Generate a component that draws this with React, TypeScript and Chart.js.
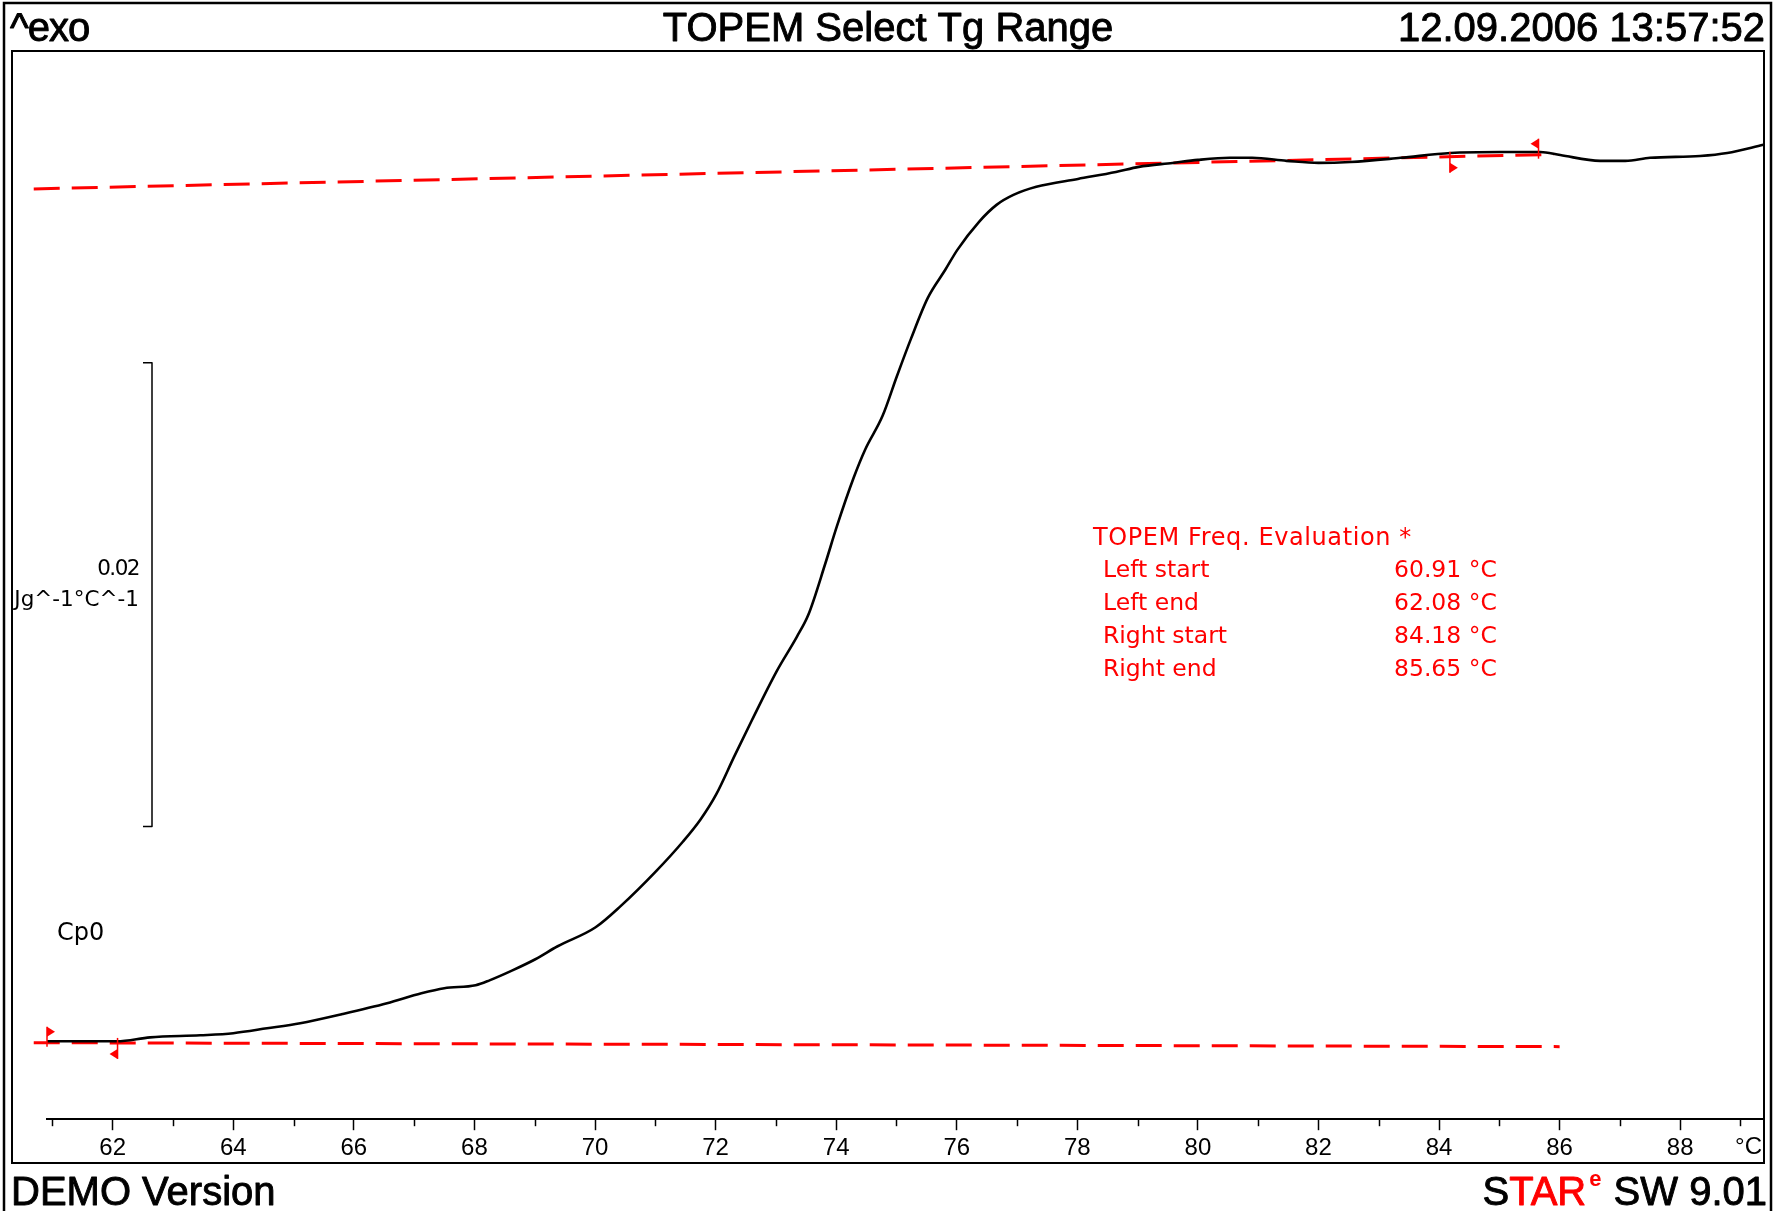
import { useEffect, useRef } from 'react';
import { Chart, registerables } from 'chart.js';

Chart.register(...registerables);

// ---- Data (temperature in °C, Cp in J g^-1 °C^-1) ----
const temperatures = [
  60.91, 61.5, 62.07, 62.62, 63.45, 64.0, 64.56, 65.11, 65.8, 66.55, 67.12, 67.5, 68.02, 68.25,
  68.63, 69.01, 69.38, 70.01, 70.42, 71.01, 71.46, 71.75, 72.01, 72.31, 72.6, 73.01, 73.35, 73.54,
  73.82, 74.01, 74.29, 74.48, 74.77, 75.01, 75.24, 75.52, 75.81, 76.01, 76.37, 76.66, 76.94, 77.32,
  78.01, 78.64, 79.02, 79.58, 80.0, 80.53, 80.9, 81.47, 82.0, 82.53, 83.36, 84.19, 85.02, 85.68,
  86.01, 86.67, 87.09, 87.5, 88.33, 88.78, 89.38,
];
const cpValues = [
  1.60336, 1.60336, 1.60336, 1.60353, 1.60362, 1.60371, 1.60392, 1.60414, 1.60453, 1.605, 1.60543,
  1.60565, 1.60578, 1.60599, 1.60642, 1.6069, 1.60746, 1.60828, 1.60918, 1.61069, 1.61198, 1.61293,
  1.61401, 1.61565, 1.6172, 1.61931, 1.62082, 1.62177, 1.62397, 1.62556, 1.62767, 1.62888, 1.63034,
  1.63207, 1.63366, 1.63543, 1.63664, 1.6375, 1.63871, 1.63944, 1.63987, 1.64022, 1.64056, 1.64086,
  1.64108, 1.64125, 1.64138, 1.64147, 1.64147, 1.64134, 1.64125, 1.64129, 1.64147, 1.64168,
  1.64172, 1.64172, 1.64159, 1.64134, 1.64134, 1.64147, 1.64155, 1.64168, 1.64203,
];
const topBaselineT = [60.69, 85.9];
const topBaselineCp = [1.64013, 1.64162];
const bottomBaselineT = [60.69, 86.0];
const bottomBaselineCp = [1.6033, 1.60313];

const xMin = 60.91;
const xMax = 89.39;
const yMin = 1.6;
const yMax = 1.646078;
const xTickValues = [61, 62, 63, 64, 65, 66, 67, 68, 69, 70, 71, 72, 73, 74, 75, 76, 77, 78, 79, 80, 81, 82, 83, 84, 85, 86, 87, 88, 89];

const scaleBarBase = 1.612629;
const scaleBarSpan = 0.02;
const scaleBarLabel = '0.02';
const scaleBarUnit = 'Jg^-1°C^-1';

const headerLeft = '^exo';
const headerTitle = 'TOPEM Select Tg Range';
const headerDate = '12.09.2006 13:57:52';
const footerLeft = 'DEMO Version';
const curveLabel = 'Cp0';
const xUnit = '°C';

const evalTitle = 'TOPEM Freq. Evaluation *';
const evalLabels = ['Left start', 'Left end', 'Right start', 'Right end'];
const evalValues = [60.91, 62.08, 84.18, 85.65];
// which baseline each limit sits on, flag direction, flag above/below
const evalOnTop = [false, false, true, true];
const evalDir = [1, -1, 1, -1];
const evalAbove = [true, false, false, true];

const RED = '#ff0000';
const HEAVY = '40px "Liberation Sans", Arial, sans-serif';

function interp(ts: number[], vs: number[], t: number) {
  const f = (t - ts[0]) / (ts[1] - ts[0]);
  return vs[0] + f * (vs[1] - vs[0]);
}

function heavyText(ctx: CanvasRenderingContext2D, s: string, x: number, y: number, color: string) {
  ctx.fillStyle = color;
  ctx.strokeStyle = color;
  ctx.lineWidth = 0.9;
  ctx.lineJoin = 'round';
  ctx.fillText(s, x, y);
  ctx.strokeText(s, x, y);
}

const decorPlugin = {
  id: 'decor',
  afterDraw(chart: any) {
    const ctx: CanvasRenderingContext2D = chart.ctx;
    const xs = chart.scales.x;
    const ys = chart.scales.y;
    const area = chart.chartArea;
    ctx.save();

    // frames
    ctx.strokeStyle = '#000';
    ctx.lineWidth = 2.5;
    ctx.beginPath();
    ctx.moveTo(4, 1211);
    ctx.lineTo(4, 3);
    ctx.lineTo(1771, 3);
    ctx.lineTo(1771, 1211);
    ctx.stroke();
    ctx.lineWidth = 2;
    ctx.strokeRect(12, 51, 1752, 1112);

    // header
    ctx.font = HEAVY;
    ctx.textBaseline = 'alphabetic';
    ctx.textAlign = 'left';
    (ctx as any).letterSpacing = '-1px';
    heavyText(ctx, headerLeft, 10, 41, '#000');
    (ctx as any).letterSpacing = '0px';
    ctx.textAlign = 'center';
    heavyText(ctx, headerTitle, 888, 41, '#000');
    ctx.textAlign = 'right';
    heavyText(ctx, headerDate, 1765, 41, '#000');

    // footer
    ctx.textAlign = 'left';
    heavyText(ctx, footerLeft, 11, 1205, '#000');
    const small = 'bold 22px "Liberation Sans", Arial, sans-serif';
    ctx.font = HEAVY;
    const wS = ctx.measureText('S').width;
    const wTAR = ctx.measureText('TAR').width;
    const wRest = ctx.measureText(' SW 9.01').width;
    ctx.font = small;
    const wE = ctx.measureText('e').width + 4;
    let fx = 1767 - (wS + wTAR + wE + wRest);
    ctx.font = HEAVY;
    heavyText(ctx, 'S', fx, 1205, '#000');
    fx += wS;
    heavyText(ctx, 'TAR', fx, 1205, RED);
    fx += wTAR;
    ctx.font = small;
    ctx.fillStyle = RED;
    ctx.fillText('e', fx + 3, 1186);
    fx += wE;
    ctx.font = HEAVY;
    heavyText(ctx, ' SW 9.01', fx, 1205, '#000');

    // minor ticks
    ctx.strokeStyle = '#000';
    ctx.lineWidth = 1.5;
    for (const v of xTickValues) {
      if (v % 2 !== 0) {
        const px = Math.round(xs.getPixelForValue(v)) + 0.5;
        ctx.beginPath();
        ctx.moveTo(px, area.bottom);
        ctx.lineTo(px, area.bottom + 7);
        ctx.stroke();
      }
    }
    // unit at axis end
    ctx.fillStyle = '#000';
    ctx.font = '24px "Liberation Sans Narrow", "Liberation Sans", Arial, sans-serif';
    ctx.textAlign = 'right';
    ctx.textBaseline = 'middle';
    ctx.fillText(xUnit, 1762, 1147);

    // scale bar
    const yTop = ys.getPixelForValue(scaleBarBase + scaleBarSpan);
    const yBot = ys.getPixelForValue(scaleBarBase);
    ctx.lineWidth = 1.5;
    ctx.beginPath();
    ctx.moveTo(143, yTop);
    ctx.lineTo(152, yTop);
    ctx.lineTo(152, yBot);
    ctx.lineTo(143, yBot);
    ctx.stroke();
    const mid = (yTop + yBot) / 2;
    ctx.font = '21.5px "DejaVu Sans", sans-serif';
    ctx.textAlign = 'right';
    ctx.textBaseline = 'alphabetic';
    (ctx as any).letterSpacing = '-1.5px';
    ctx.fillText(scaleBarLabel, 139, mid - 20);
    (ctx as any).letterSpacing = '0px';
    ctx.fillText(scaleBarUnit, 139, mid + 11);

    // curve label
    ctx.font = '24px "DejaVu Sans", sans-serif';
    ctx.textAlign = 'left';
    ctx.fillText(curveLabel, 57, 940);

    // evaluation text
    ctx.fillStyle = RED;
    ctx.font = '24px "DejaVu Sans", sans-serif';
    (ctx as any).letterSpacing = '0.6px';
    ctx.fillText(evalTitle, 1093, 545);
    (ctx as any).letterSpacing = '0px';
    ctx.font = '23.5px "DejaVu Sans", sans-serif';
    evalLabels.forEach((lab, i) => {
      const by = 577 + i * 33;
      ctx.fillText(lab, 1103, by);
      ctx.fillText(evalValues[i].toFixed(2) + ' °C', 1394, by);
    });

    // flags
    ctx.strokeStyle = RED;
    ctx.lineWidth = 1.5;
    evalValues.forEach((t, i) => {
      const cp = evalOnTop[i] ? interp(topBaselineT, topBaselineCp, t) : interp(bottomBaselineT, bottomBaselineCp, t);
      const px = xs.getPixelForValue(t);
      const py = ys.getPixelForValue(cp);
      const dir = evalDir[i];
      const y0 = evalAbove[i] ? py - 16 : py - 5;
      const y1 = evalAbove[i] ? py + 4 : py + 16;
      ctx.beginPath();
      ctx.moveTo(px, y0);
      ctx.lineTo(px, y1);
      ctx.stroke();
      const ty = evalAbove[i] ? py - 16 : py + 6;
      ctx.beginPath();
      ctx.moveTo(px, ty);
      ctx.lineTo(px + dir * 8, ty + 5);
      ctx.lineTo(px, ty + 10);
      ctx.closePath();
      ctx.fill();
    });

    ctx.restore();
  },
};

export default function App() {
  const canvasRef = useRef<HTMLCanvasElement | null>(null);

  useEffect(() => {
    const canvas = canvasRef.current;
    if (!canvas) return;
    const chart = new Chart(canvas, {
      type: 'line',
      data: {
        datasets: [
          {
            label: 'Cp',
            data: temperatures.map((t, i) => ({ x: t, y: cpValues[i] })),
            borderColor: '#000',
            borderWidth: 2.6,
            pointRadius: 0,
            cubicInterpolationMode: 'monotone',
            clip: false,
          },
          {
            label: 'Top baseline',
            data: topBaselineT.map((t, i) => ({ x: t, y: topBaselineCp[i] })),
            borderColor: RED,
            borderWidth: 3,
            borderDash: [26, 12],
            pointRadius: 0,
            clip: false,
          },
          {
            label: 'Bottom baseline',
            data: bottomBaselineT.map((t, i) => ({ x: t, y: bottomBaselineCp[i] })),
            borderColor: RED,
            borderWidth: 3,
            borderDash: [26, 12],
            pointRadius: 0,
            clip: false,
          },
        ],
      },
      options: {
        animation: false,
        responsive: false,
        devicePixelRatio: 1,
        layout: { padding: { left: 47, right: 21, top: 51, bottom: 44 } },
        plugins: { legend: { display: false }, tooltip: { enabled: false }, title: { display: false } },
        scales: {
          x: {
            type: 'linear',
            min: xMin,
            max: xMax,
            afterBuildTicks: (scale: any) => {
              scale.ticks = xTickValues.map((v) => ({ value: v }));
            },
            ticks: {
              stepSize: 1,
              autoSkip: false,
              maxRotation: 0,
              minRotation: 0,
              includeBounds: false,
              padding: 4,
              color: '#000',
              font: { family: '"Liberation Sans Narrow", "Liberation Sans", Arial, sans-serif', size: 24 },
              callback: (v: any) => (Number(v) % 2 === 0 ? String(v) : ''),
            },
            grid: {
              drawOnChartArea: false,
              drawTicks: true,
              tickLength: 11,
              tickWidth: 1.5,
              tickColor: (c: any) => (c.tick && c.tick.value % 2 === 0 ? '#000' : 'rgba(0,0,0,0)'),
            },
            border: { display: true, color: '#000', width: 2 },
          },
          y: { type: 'linear', display: false, min: yMin, max: yMax },
        },
      },
      plugins: [decorPlugin],
    } as any);
    return () => chart.destroy();
  }, []);

  return (
    <div style={{ position: 'fixed', left: 0, top: 0, width: 1785, height: 1211, background: '#fff' }}>
      <canvas ref={canvasRef} width={1785} height={1211} style={{ display: 'block', width: 1785, height: 1211 }} />
    </div>
  );
}
